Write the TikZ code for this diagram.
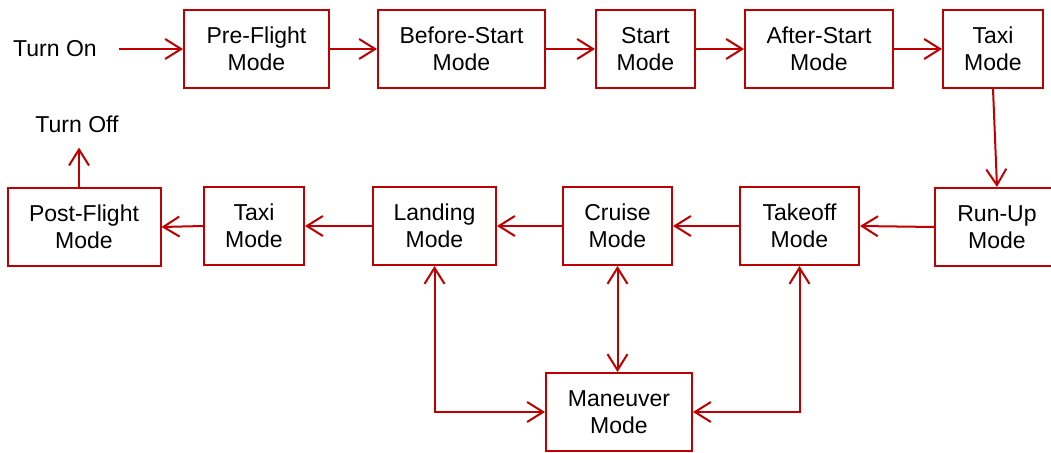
\documentclass[tikz,border=0pt]{standalone}
\usepackage{fontspec}
\setmainfont{Liberation Sans}
\usetikzlibrary{arrows.meta}
\definecolor{modered}{HTML}{C00000}
\tikzset{
  modebox/.style={draw=modered, line width=2pt, minimum height=78pt, inner sep=0pt,
    align=center, font=\fontsize{23}{27.3}\selectfont},
  plain/.style={inner sep=0pt, font=\fontsize{23}{27.3}\selectfont},
  barb/.tip={Straight Barb[length=16pt, width=20pt, line width=2pt]},
  flow/.style={draw=modered, line width=2pt, -barb},
  twoway/.style={draw=modered, line width=2pt, barb-barb}
}
\begin{document}
\begin{tikzpicture}[x=1pt, y=-1pt]
\useasboundingbox (0,0) rectangle (1051,452);
\clip (0,0) rectangle (1051,452);

% start-up sequence
\node[plain] (TurnOn) at (55,49) {Turn On};
\node[modebox, minimum width=145pt] (PreFlight) at (256.5,49) {Pre-Flight\\Mode};
\node[modebox, minimum width=167pt] (BeforeStart) at (461.5,49) {Before-Start\\Mode};
\node[modebox, minimum width=99pt] (Start) at (645.5,49) {Start\\Mode};
\node[modebox, minimum width=148pt] (AfterStart) at (819,49) {After-Start\\Mode};
\node[modebox, minimum width=100pt] (TaxiOut) at (993,49) {Taxi\\Mode};

% flight and shut-down sequence
\node[modebox, minimum width=124pt] (RunUp) at (997,227) {Run-Up\\Mode};
\node[modebox, minimum width=119pt] (Takeoff) at (799.5,226) {Takeoff\\Mode};
\node[modebox, minimum width=109pt] (Cruise) at (617.5,226) {Cruise\\Mode};
\node[modebox, minimum width=123pt] (Landing) at (434.5,226) {Landing\\Mode};
\node[modebox, minimum width=100pt] (TaxiIn) at (254,226) {Taxi\\Mode};
\node[modebox, minimum width=153pt] (PostFlight) at (84,227) {Post-Flight\\Mode};
\node[plain] (TurnOff) at (77,124) {Turn Off};
\node[modebox, minimum width=146pt] (Maneuver) at (619,412) {Maneuver\\Mode};

% transitions
\draw[flow] ([xshift=22pt]TurnOn.east) -- (PreFlight.west);
\draw[flow] (PreFlight) -- (BeforeStart);
\draw[flow] (BeforeStart) -- (Start);
\draw[flow] (Start) -- (AfterStart);
\draw[flow] (AfterStart) -- (TaxiOut);
\draw[flow] (TaxiOut.south) -- (RunUp.north);
\draw[flow] (RunUp.west) -- (Takeoff.east);
\draw[flow] (Takeoff) -- (Cruise);
\draw[flow] (Cruise) -- (Landing);
\draw[flow] (Landing) -- (TaxiIn);
\draw[flow] (TaxiIn.west) -- (PostFlight.east);
\draw[flow] ([xshift=-5pt]PostFlight.north) -- ([xshift=2pt,yshift=-15pt]TurnOff.south);

% maneuver links
\draw[twoway] (Landing.south) |- (Maneuver.west);
\draw[twoway] (Cruise.south) -- (Cruise.south |- Maneuver.north);
\draw[twoway] (Takeoff.south) |- (Maneuver.east);
\end{tikzpicture}
\end{document}
